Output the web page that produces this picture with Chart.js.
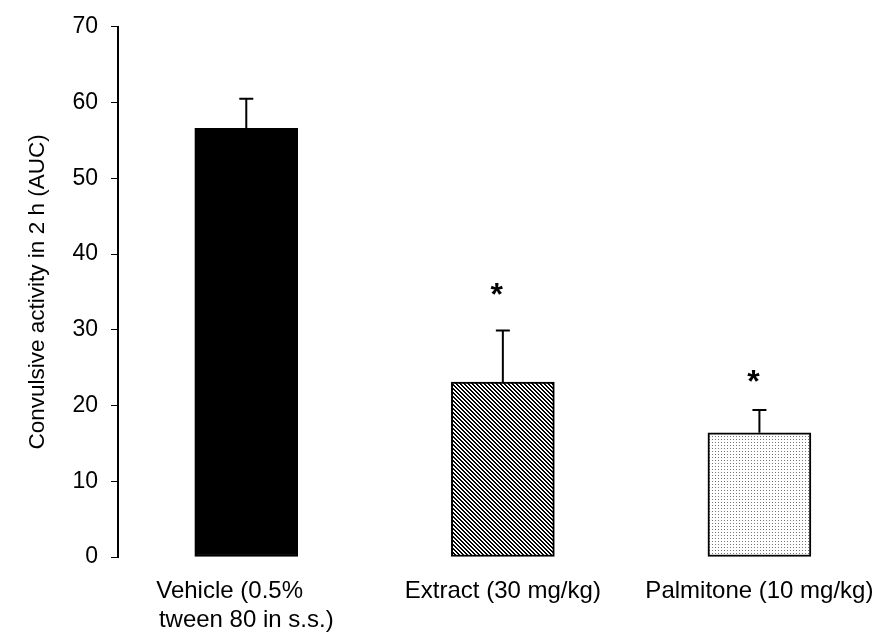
<!DOCTYPE html>
<html>
<head>
<meta charset="utf-8">
<script src="https://cdn.jsdelivr.net/npm/chart.js@4"></script>
<style>
  html, body { margin: 0; padding: 0; background: #fff; }
  #wrap { width: 880px; height: 639px; }
</style>
</head>
<body>
<div id="wrap"><canvas id="chart"></canvas></div>
<script>
// groups on the x axis (trailing spaces keep the first line left-aligned like the original)
const groups = [['Vehicle (0.5%     ', 'tween 80 in s.s.)'], 'Extract (30 mg/kg)', 'Palmitone (10 mg/kg)'];
// mean AUC in 2 h
const means = [56.6, 23.1, 16.4];
// upper error (SEM)
const sem = [3.9, 6.8, 3.0];
// where the * marks sit (null = no mark)
const starAt = [null, 35.1, 23.6];

const FONT = '"Liberation Sans", Arial, sans-serif';

// small tiles for the hatched fills
function makeTile(size, isOn, color) {
    const c = document.createElement('canvas');
    c.width = size; c.height = size;
    const g = c.getContext('2d');
    g.fillStyle = '#fff';
    g.fillRect(0, 0, size, size);
    g.fillStyle = color;
    for (let y = 0; y < size; y++) {
        for (let x = 0; x < size; x++) {
            if (isOn(x, y)) g.fillRect(x, y, 1, 1);
        }
    }
    return g.createPattern(c, 'repeat');
}

const stripes = makeTile(4, (x, y) => ((x - y + 8) % 4) < 2, '#000');
const dots = makeTile(3, (x, y) => x == 1 && y == 1, '#777');

const errorBars = {
    id: 'errorBars',
    afterDatasetsDraw(chart) {
        const ctx = chart.ctx;
        const x = chart.scales.x, y = chart.scales.y;
        ctx.save();
        ctx.strokeStyle = '#000';
        ctx.lineWidth = 2;
        means.forEach((m, i) => {
            const px = x.getPixelForValue(i);
            const top = y.getPixelForValue(m + sem[i]);
            ctx.beginPath();
            ctx.moveTo(px, y.getPixelForValue(m));
            ctx.lineTo(px, top);
            ctx.moveTo(px - 7, top);
            ctx.lineTo(px + 7, top);
            ctx.stroke();
            if (starAt[i] != null) {
                ctx.fillStyle = '#000';
                ctx.font = 'bold 32px ' + FONT;
                ctx.textAlign = 'center';
                ctx.textBaseline = 'alphabetic';
                // asterisk glyph sits high in the em box
                ctx.fillText('*', px - 6, y.getPixelForValue(starAt[i]) + 14);
            }
        });
        ctx.restore();
    }
};

new Chart(document.getElementById('chart'), {
    type: 'bar',
    data: {
        datasets: [{
            data: means.map((v, i) => ({x: i, y: v})),
            backgroundColor: ['#000', stripes, dots],
            borderColor: '#000',
            borderWidth: 2,
            borderSkipped: false,
            barThickness: 103
        }]
    },
    options: {
        responsive: true,
        maintainAspectRatio: false,
        animation: false,
        devicePixelRatio: 1,
        layout: { padding: { top: 24, right: 0, bottom: 0, left: 0 } },
        plugins: {
            legend: { display: false },
            tooltip: { enabled: false }
        },
        scales: {
            x: {
                type: 'linear',
                offset: false,
                min: -0.5,
                max: 2.47,
                afterBuildTicks: s => { s.ticks = groups.map((g, i) => ({value: i})); },
                afterFit: s => { s.height = 82; s.paddingLeft = 0; s.paddingRight = 0; },
                ticks: {
                    callback: v => groups[v],
                    color: '#000',
                    font: { family: FONT, size: 24, lineHeight: 1.2 },
                    padding: 20,
                    maxRotation: 0,
                    minRotation: 0,
                    autoSkip: false
                },
                grid: { display: false, drawTicks: false },
                border: { display: false }
            },
            y: {
                min: 0,
                max: 70,
                afterFit: s => { s.width = 118; },
                ticks: {
                    stepSize: 10,
                    color: '#000',
                    font: { family: FONT, size: 23 },
                    padding: 13
                },
                grid: { drawOnChartArea: false, tickLength: 7, color: '#000', lineWidth: 1 },
                border: { color: '#000', width: 2 },
                title: {
                    display: true,
                    text: 'Convulsive activity in 2 h (AUC)',
                    color: '#000',
                    font: { family: FONT, size: 22.5 },
                    padding: { top: 24, bottom: 0 }
                }
            }
        }
    },
    plugins: [errorBars]
});
</script>
</body>
</html>
